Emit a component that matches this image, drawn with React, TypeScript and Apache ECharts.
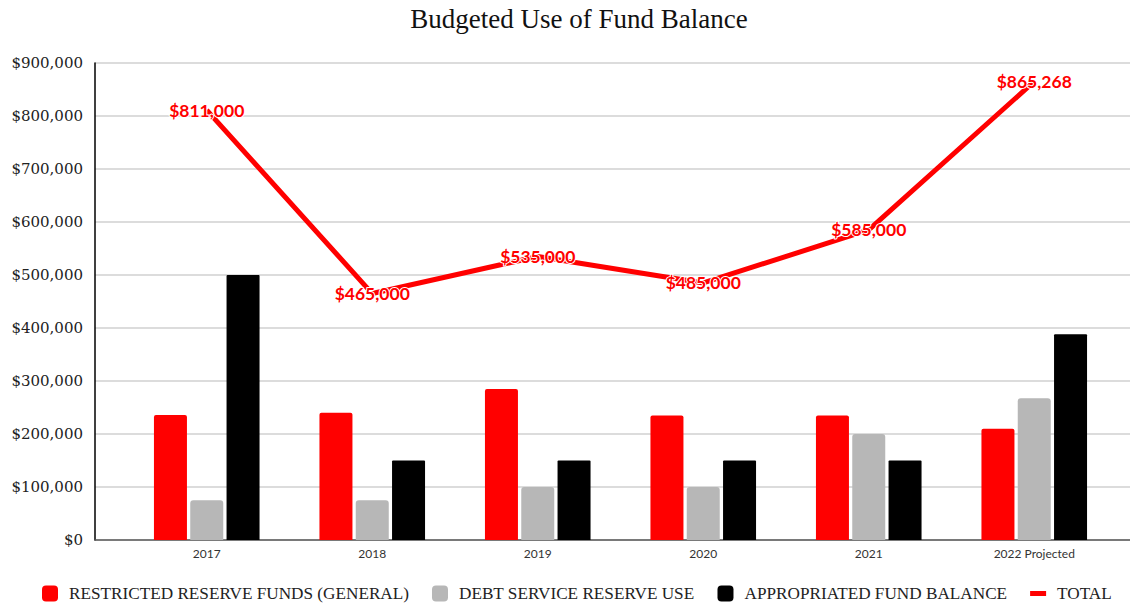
import React, { useEffect, useRef } from "react";
import * as echarts from "echarts";

const categories = ["2017", "2018", "2019", "2020", "2021", "2022 Projected"];
const restricted = [236000, 240000, 285000, 235000, 235000, 210000];
const debtService = [75000, 75000, 100000, 100000, 200000, 267268];
const appropriated = [500000, 150000, 150000, 150000, 150000, 388000];
const totals = [811000, 465000, 535000, 485000, 585000, 865268];
const yTicks = { min: 0, max: 900000, interval: 100000 };

const SERIF = "'Liberation Serif', 'DejaVu Serif', serif";
const SERIF_WIDE = "'DejaVu Serif', 'Liberation Serif', serif";
const SANS = "Lato, 'Open Sans', sans-serif";

const fmt = (v: number) => "$" + Math.round(v).toLocaleString("en-US");

export default function App() {
  const ref = useRef<HTMLDivElement>(null);
  useEffect(() => {
    if (!ref.current) return;
    const chart = echarts.init(ref.current, undefined, { renderer: "svg" });
    chart.setOption({
      animation: false,
      backgroundColor: "#ffffff",
      title: {
        text: "Budgeted Use of Fund Balance",
        left: 574,
        textAlign: "center",
        top: 0,
        textStyle: { fontFamily: SERIF, fontSize: 27, fontWeight: "normal", color: "#111" },
      },
      legend: {
        left: 37,
        top: 580,
        itemWidth: 16,
        itemHeight: 16,
        itemGap: 23,
        textStyle: { fontFamily: SERIF, fontSize: 17.2, color: "#222", padding: [0, 0, 0, 6] },
        data: [
          { name: "RESTRICTED RESERVE FUNDS (GENERAL)", icon: "roundRect" },
          { name: "DEBT SERVICE RESERVE USE", icon: "roundRect" },
          { name: "APPROPRIATED FUND BALANCE", icon: "roundRect" },
          { name: "TOTAL", icon: "path://M0,0 L16,0 L16,5 L0,5 Z" },
        ],
      },
      grid: [
        { left: 95, right: 0, top: 63, bottom: 63 },
        { left: 124, right: 13, top: 63, bottom: 63 },
      ],
      xAxis: [
        {
          type: "value",
          gridIndex: 0,
          min: 0,
          max: 1,
          axisLine: { show: true, onZero: false, lineStyle: { color: "#595959", width: 1.5 } },
          axisTick: { show: false },
          axisLabel: { show: false },
          splitLine: { show: false },
        },
        {
          type: "category",
          gridIndex: 1,
          data: categories,
          axisLine: { show: false },
          axisTick: { show: false },
          axisLabel: { fontFamily: SANS, fontSize: 12, color: "#333", margin: 7 },
        },
      ],
      yAxis: [
        {
          type: "value",
          gridIndex: 0,
          min: yTicks.min,
          max: yTicks.max,
          interval: yTicks.interval,
          axisLine: { show: true, lineStyle: { color: "#000", width: 1.5 } },
          axisTick: { show: false },
          axisLabel: { fontFamily: SERIF_WIDE, fontSize: 15, color: "#222", margin: 12, formatter: (v: number) => fmt(v) },
          splitLine: { show: true, lineStyle: { color: "#d0d0d0", width: 1.5 } },
        },
        {
          type: "value",
          gridIndex: 1,
          min: yTicks.min,
          max: yTicks.max,
          interval: yTicks.interval,
          show: false,
          splitLine: { show: false },
        },
      ],
      series: [
        {
          name: "RESTRICTED RESERVE FUNDS (GENERAL)",
          type: "bar",
          xAxisIndex: 1,
          yAxisIndex: 1,
          data: restricted,
          barWidth: 33,
          barGap: "10%",
          itemStyle: { color: "#FF0000", borderRadius: [2, 2, 0, 0] },
        },
        {
          name: "DEBT SERVICE RESERVE USE",
          type: "bar",
          xAxisIndex: 1,
          yAxisIndex: 1,
          data: debtService,
          barWidth: 33,
          barGap: "10%",
          itemStyle: { color: "#B7B7B7", borderRadius: [3, 3, 0, 0] },
        },
        {
          name: "APPROPRIATED FUND BALANCE",
          type: "bar",
          xAxisIndex: 1,
          yAxisIndex: 1,
          data: appropriated,
          barWidth: 33,
          barGap: "10%",
          itemStyle: { color: "#000000", borderRadius: [1, 1, 0, 0] },
        },
        {
          name: "TOTAL",
          type: "line",
          xAxisIndex: 1,
          yAxisIndex: 1,
          data: totals,
          symbol: "circle",
          symbolSize: 1,
          itemStyle: { color: "#FF0000" },
          lineStyle: { color: "#FF0000", width: 5 },
          z: 5,
          label: {
            show: true,
            position: "inside",
            formatter: (p: any) => fmt(p.value),
            fontFamily: SANS,
            fontWeight: "bold",
            fontSize: 17.5,
            color: "#FF0000",
            textBorderColor: "#ffffff",
            textBorderWidth: 2,
          },
        },
      ],
    });
    return () => chart.dispose();
  }, []);
  return (
    <div
      ref={ref}
      style={{ position: "fixed", left: 0, top: 0, width: 1130, height: 603, background: "#fff" }}
    />
  );
}
